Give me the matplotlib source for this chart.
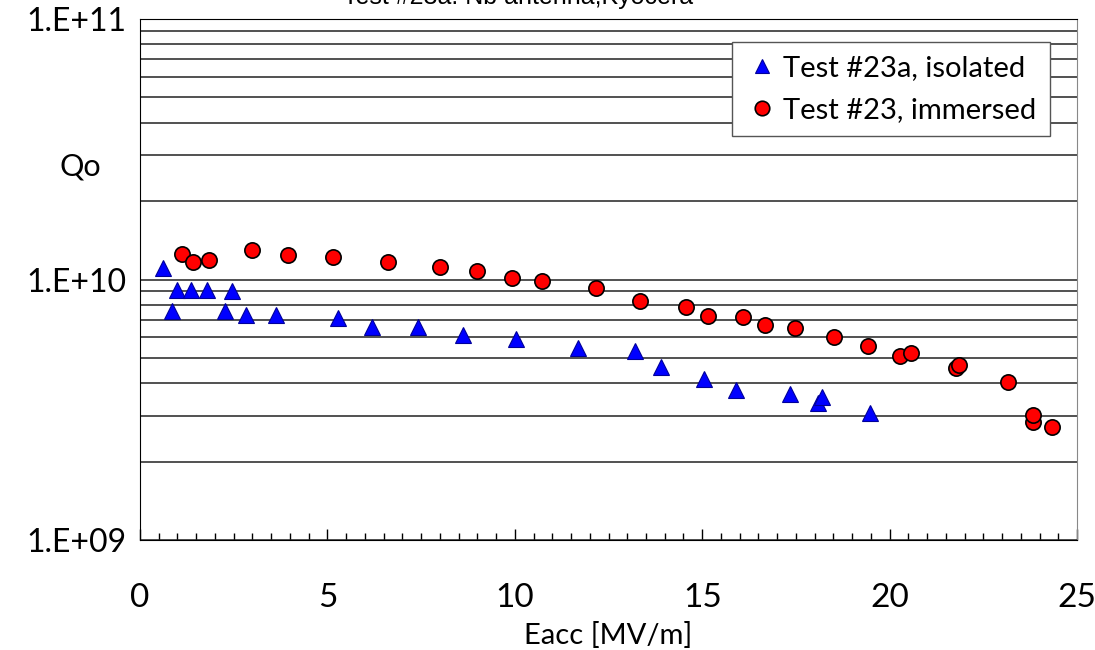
import matplotlib
matplotlib.use('Agg')
import matplotlib.pyplot as plt
from matplotlib.ticker import FixedLocator, MultipleLocator, LogLocator, NullFormatter

# Test #23a, isolated (blue triangles)
eacc_iso = [0.62, 0.85, 0.98, 1.36, 1.78, 2.27, 2.45, 2.83, 3.63, 5.27, 6.18, 7.43,
            8.63, 10.02, 11.69, 13.22, 13.89, 15.05, 15.9, 17.34, 18.09, 18.2, 19.48]
q_iso = [1.11e10, 7.55e9, 9.15e9, 9.15e9, 9.15e9, 7.55e9, 9.0e9, 7.33e9, 7.33e9, 7.12e9, 6.6e9, 6.6e9,
         6.1e9, 5.93e9, 5.46e9, 5.3e9, 4.6e9, 4.15e9, 3.78e9, 3.64e9, 3.36e9, 3.55e9, 3.08e9]

# Test #23, immersed (red circles)
eacc_imm = [1.11, 1.42, 1.85, 2.98, 3.94, 5.14, 6.61, 8.0, 8.98, 9.92, 10.72, 12.16,
            13.34, 14.57, 15.15, 16.10, 16.68, 17.48, 18.52, 19.43, 20.28, 20.56,
            21.77, 21.86, 23.17, 23.82, 23.82, 24.32]
q_imm = [1.25e10, 1.17e10, 1.19e10, 1.30e10, 1.24e10, 1.22e10, 1.17e10, 1.12e10, 1.08e10,
         1.015e10, 9.85e9, 9.29e9, 8.25e9, 7.83e9, 7.27e9, 7.16e9, 6.67e9, 6.52e9, 6.02e9,
         5.54e9, 5.1e9, 5.22e9, 4.57e9, 4.71e9, 4.03e9, 2.83e9, 3.03e9, 2.71e9]

ytick_vals = [1e9, 1e10, 1e11]
ytick_labels = ['1.E+09', '1.E+10', '1.E+11']

plt.rcParams['font.family'] = ['Lato', 'DejaVu Sans']

fig = plt.figure(figsize=(10.95, 6.5), dpi=100)
ax = fig.add_axes([140 / 1095, 110 / 650, 937 / 1095, 521 / 650])

ax.set_yscale('log')
ax.set_xlim(0, 25)
ax.set_ylim(1e9, 1e11)

# horizontal grid (major + minor decades)
ax.yaxis.set_major_locator(FixedLocator(ytick_vals))
ax.yaxis.set_minor_locator(LogLocator(base=10, subs=range(2, 10)))
ax.yaxis.set_minor_formatter(NullFormatter())
ax.set_yticklabels(ytick_labels)
ax.grid(True, which='both', axis='y', color='#222222', lw=1.1)
ax.set_axisbelow(True)

ax.xaxis.set_major_locator(MultipleLocator(5))
ax.xaxis.set_minor_locator(MultipleLocator(0.5))
ax.tick_params(axis='x', which='major', direction='in', length=8, width=1, pad=31, labelsize=24)
ax.tick_params(axis='x', which='minor', direction='in', length=5, width=1)
ax.tick_params(axis='y', which='both', length=0, pad=10, labelsize=23)

for s in ['left', 'bottom', 'top']:
    ax.spines[s].set_color('black')
ax.spines['right'].set_color('#888888')

ax.plot(eacc_iso, q_iso, linestyle='none', marker='^', markersize=11,
        markerfacecolor='#0000ff', markeredgecolor='#000099', markeredgewidth=0.8,
        label='Test #23a, isolated')
ax.plot(eacc_imm, q_imm, linestyle='none', marker='o', markersize=11,
        markerfacecolor='#ff0000', markeredgecolor='black', markeredgewidth=1.2,
        label='Test #23, immersed')

leg = ax.legend(loc='upper right', bbox_to_anchor=(0.971, 0.956), fontsize=21,
                frameon=True, fancybox=False, framealpha=1, edgecolor='#555555',
                handletextpad=0.2, borderpad=0.45, labelspacing=0.55, markerscale=0.95,
                handlelength=1.1, borderaxespad=0)
leg.get_frame().set_linewidth(1)

fig.text(608.5 / 1095, 15 / 650, 'Eacc [MV/m]', ha='center', va='center', fontsize=21)
fig.text(80 / 1095, (650 - 167) / 650, 'Qo', ha='center', va='center', fontsize=22)
fig.text(518 / 1095, (650 - 4) / 650, 'Test #23a: Nb antenna,Kyocera', ha='center',
         va='baseline', fontsize=18, family=['Liberation Sans', 'DejaVu Sans'])

plt.savefig('out.png', dpi=100)
plt.close()
